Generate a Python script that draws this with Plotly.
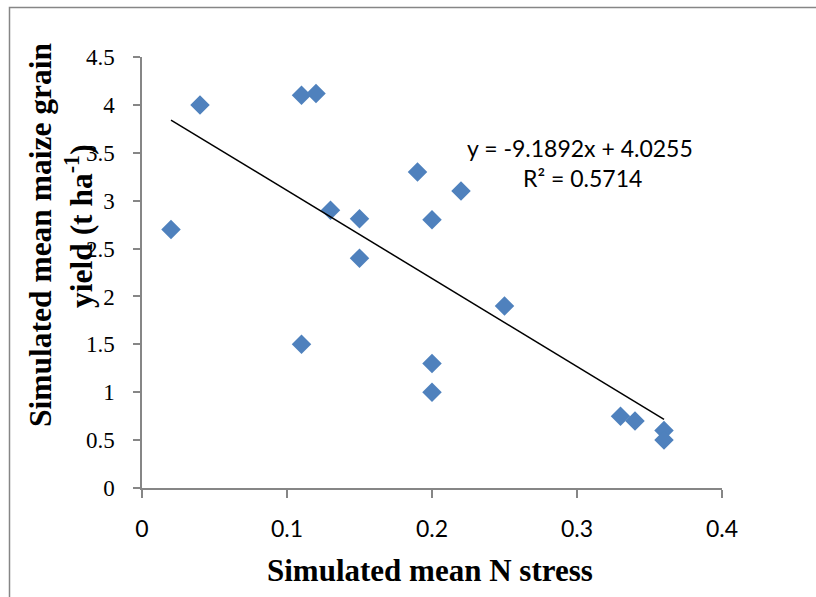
import plotly.graph_objects as go

# Data
n_stress = [0.02, 0.04, 0.11, 0.12, 0.11, 0.13, 0.15, 0.15, 0.19, 0.20, 0.22, 0.20, 0.20, 0.25, 0.33, 0.34, 0.36, 0.36]
yield_t = [2.70, 4.00, 4.10, 4.12, 1.50, 2.90, 2.81, 2.40, 3.30, 2.80, 3.10, 1.30, 1.00, 1.90, 0.75, 0.70, 0.60, 0.50]

slope = -9.1892
intercept = 4.0255
r_squared = 0.5714
trend_x = [min(n_stress), max(n_stress)]
trend_y = [slope * v + intercept for v in trend_x]

x_ticks = [0, 0.1, 0.2, 0.3, 0.4]
x_tick_labels = ["0", "0.1", "0.2", "0.3", "0.4"]
y_ticks = [0, 0.5, 1, 1.5, 2, 2.5, 3, 3.5, 4, 4.5]
y_tick_labels = ["0", "0.5", "1", "1.5", "2", "2.5", "3", "3.5", "4", "4.5"]

W, H = 816, 597
L, R, T, B = 142, 94, 57, 109
PW, PH = W - L - R, H - T - B


def px(xpix):
    return (xpix - L) / PW


def py(ypix):
    return (H - B - ypix) / PH


AXIS = "#868686"
SERIF = "Liberation Serif, Times New Roman, serif"
SANS = "Lato, Calibri, sans-serif"

fig = go.Figure()
fig.add_trace(go.Scatter(
    x=n_stress, y=yield_t, mode="markers",
    marker=dict(symbol="diamond", size=15, color="#4F81BD", line=dict(width=0)),
    showlegend=False, hoverinfo="x+y",
))
fig.add_trace(go.Scatter(
    x=trend_x, y=trend_y, mode="lines",
    line=dict(color="black", width=1.5),
    showlegend=False, hoverinfo="skip",
))

fig.update_layout(
    width=W, height=H,
    margin=dict(l=L, r=R, t=T, b=B, pad=0),
    paper_bgcolor="white", plot_bgcolor="white",
    xaxis=dict(
        range=[0, 0.4], tickvals=x_ticks, ticktext=x_tick_labels,
        showgrid=False, zeroline=False, showline=True, linecolor=AXIS, linewidth=1.5,
        ticks="outside", ticklen=8, tickwidth=1.5, tickcolor=AXIS,
        tickfont=dict(family=SANS, size=23, color="black"),
        ticklabelstandoff=12,
    ),
    yaxis=dict(
        range=[0, 4.5], tickvals=y_ticks, ticktext=y_tick_labels,
        showgrid=False, zeroline=False, showline=True, linecolor=AXIS, linewidth=1.5,
        ticks="outside", ticklen=7, tickwidth=1.5, tickcolor=AXIS,
        tickfont=dict(family=SERIF, size=23, color="black"),
        ticklabelstandoff=14,
    ),
    shapes=[dict(
        type="rect", xref="paper", yref="paper",
        x0=px(9.5), x1=px(900), y0=py(700), y1=py(7.5),
        line=dict(color=AXIS, width=1.5), fillcolor="rgba(0,0,0,0)", layer="below",
    )],
    annotations=[
        dict(text="<b>Simulated mean N stress</b>", xref="paper", yref="paper",
             x=px(430), y=py(570), xanchor="center", yanchor="middle", showarrow=False,
             font=dict(family=SERIF, size=31, color="black")),
        dict(text="<b>Simulated mean maize grain</b>", xref="paper", yref="paper",
             x=px(40), y=py(235), xanchor="center", yanchor="middle", showarrow=False,
             textangle=-90, font=dict(family=SERIF, size=31.5, color="black")),
        dict(text="<b>yield (t ha<sup>-1</sup>)</b>", xref="paper", yref="paper",
             x=px(79), y=py(226), xanchor="center", yanchor="middle", showarrow=False,
             textangle=-90, font=dict(family=SERIF, size=31.5, color="black")),
        dict(text=f"y = {slope}x + {intercept}", xref="paper", yref="paper",
             x=px(580), y=py(148), xanchor="center", yanchor="middle", showarrow=False,
             font=dict(family=SANS, size=23, color="black")),
        dict(text=f"R² = {r_squared}", xref="paper", yref="paper",
             x=px(582), y=py(178), xanchor="center", yanchor="middle", showarrow=False,
             font=dict(family=SANS, size=23, color="black")),
    ],
)

fig.write_html("out.html")
